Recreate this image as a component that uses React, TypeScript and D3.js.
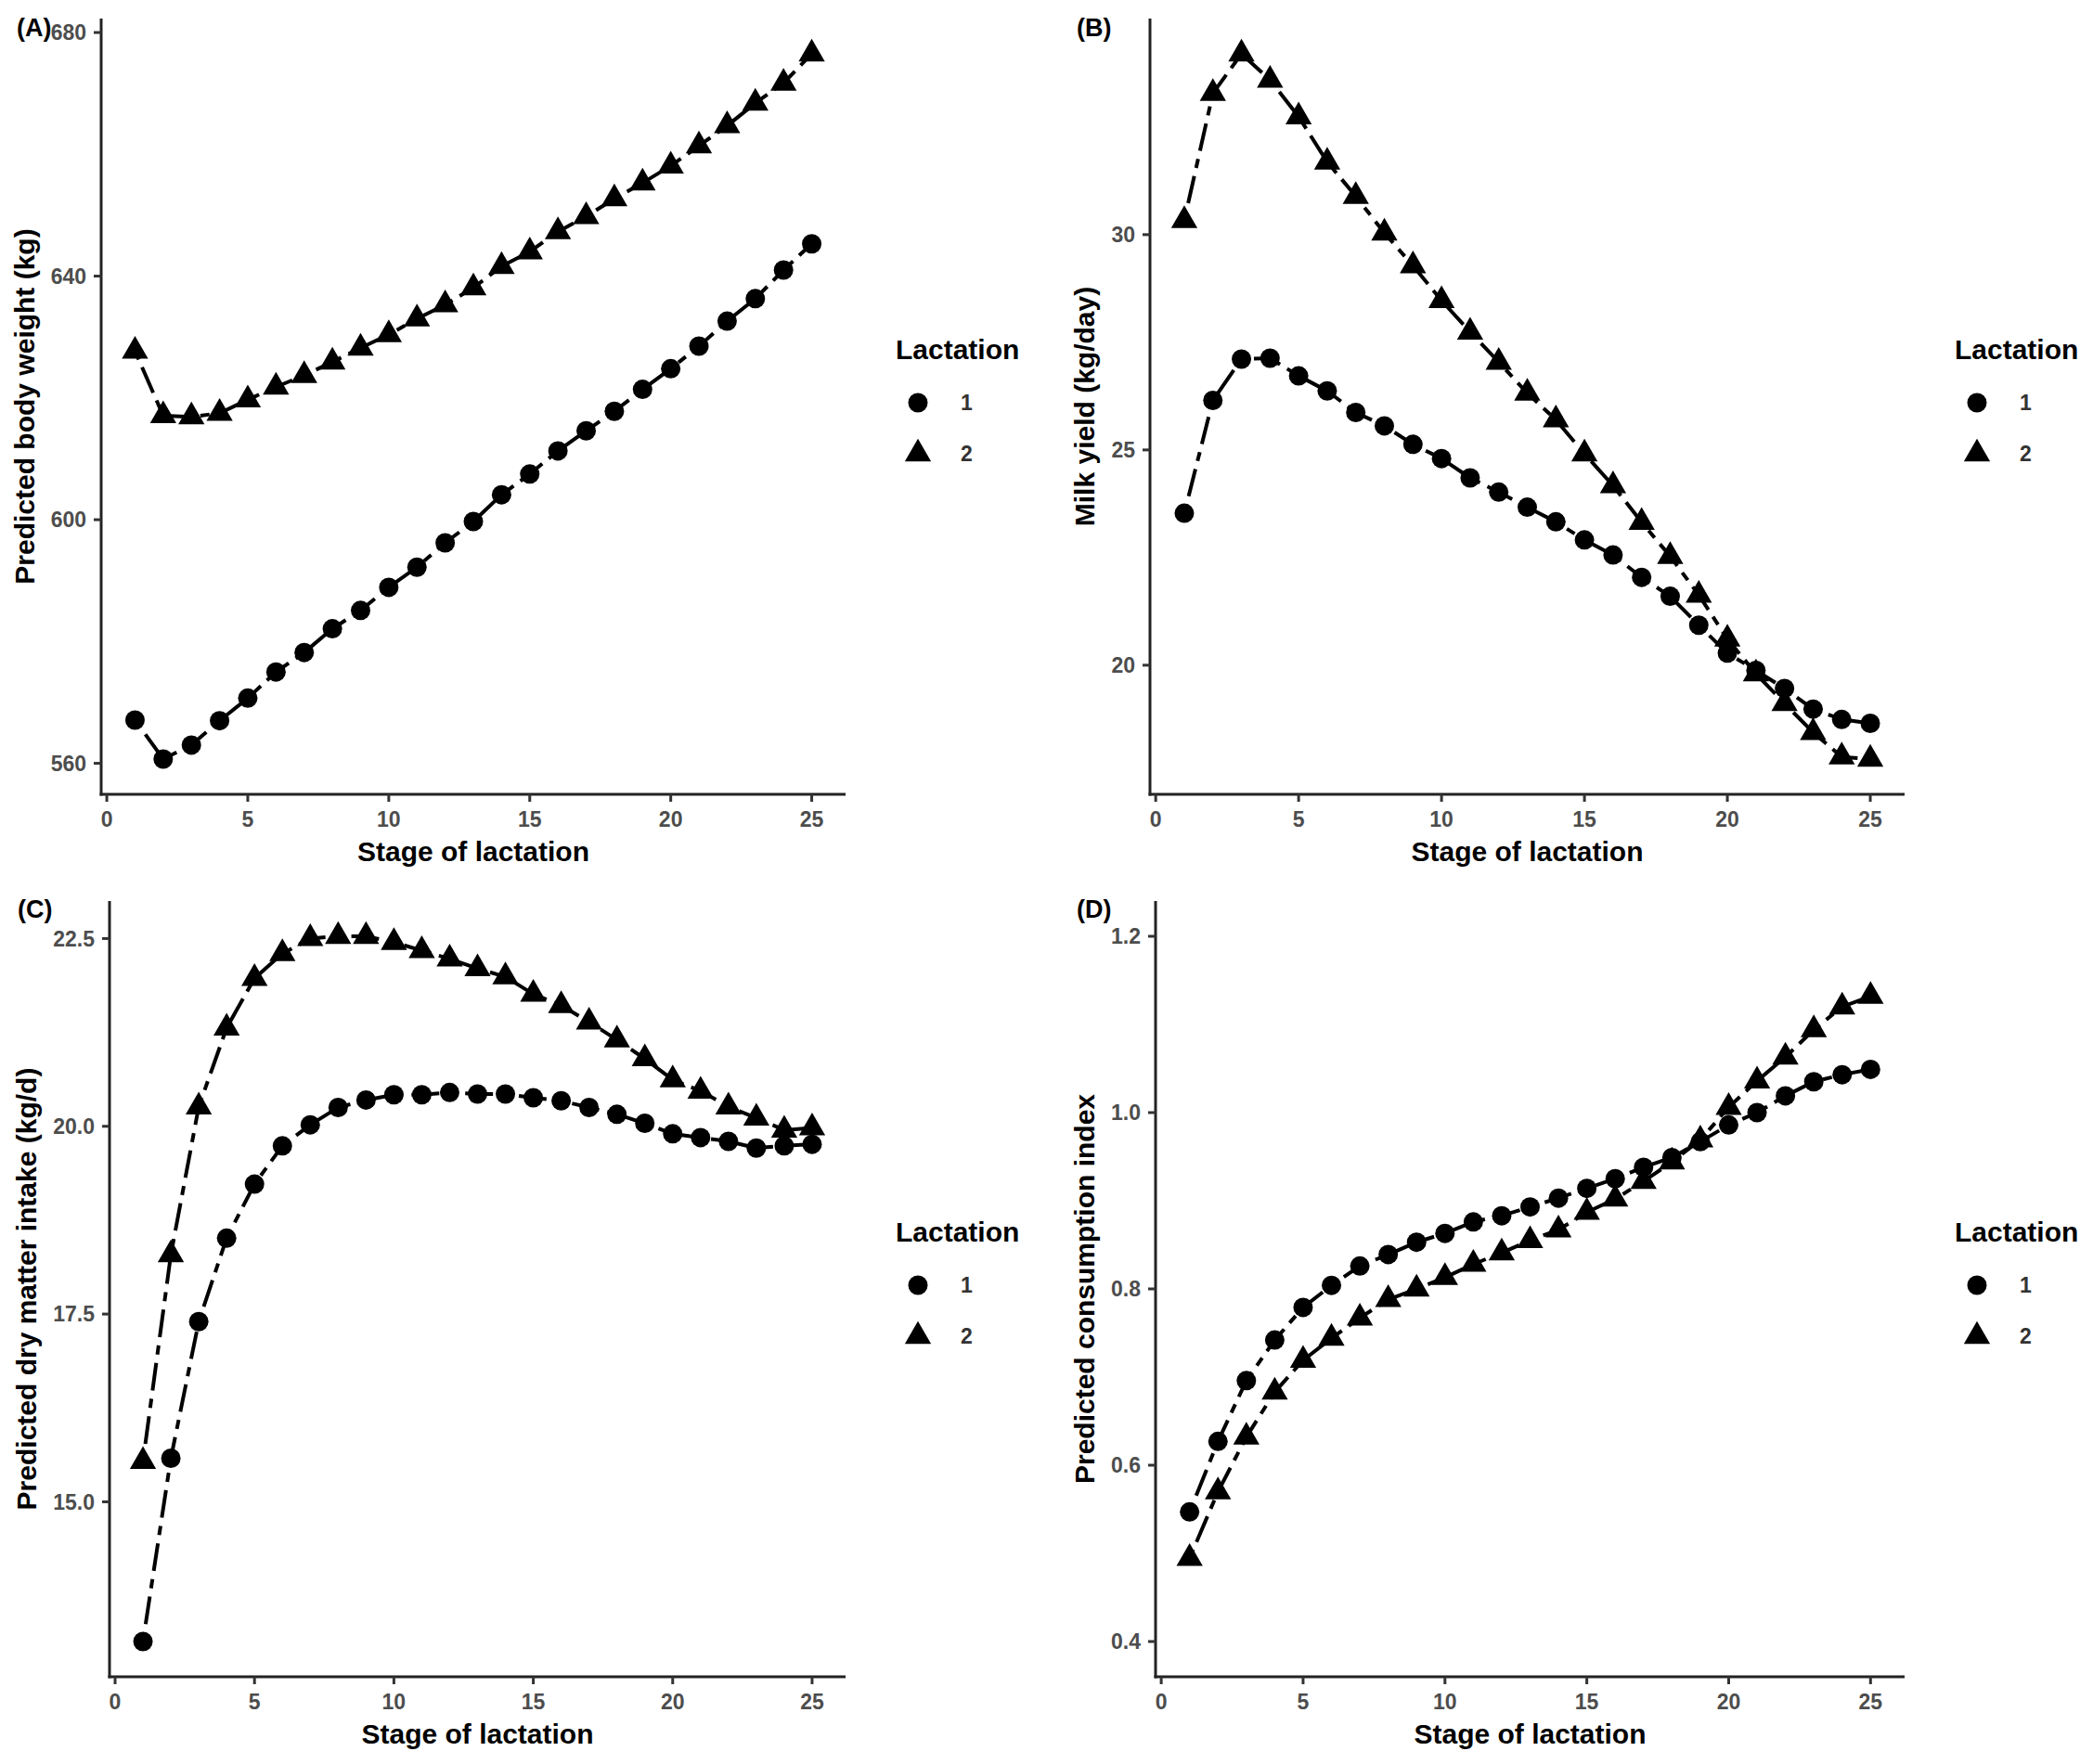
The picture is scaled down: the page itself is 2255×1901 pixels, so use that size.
import * as d3 from "d3";

// stage of lactation (x) shared by all four panels
const stage = [1, 2, 3, 4, 5, 6, 7, 8, 9, 10, 11, 12, 13, 14, 15, 16, 17, 18, 19, 20, 21, 22, 23, 24, 25];
const lactationLevels = ["1", "2"];
const xTicks = [0, 5, 10, 15, 20, 25];

// (A) predicted body weight (kg)
const bodyWeightL1 = [567.1, 560.7, 563.0, 567.0, 570.7, 575.0, 578.2, 582.1, 585.1, 588.9, 592.2, 596.2, 599.7, 604.1, 607.5, 611.3, 614.6, 617.8, 621.4, 624.8, 628.5, 632.6, 636.3, 641.0, 645.3];
const bodyWeightL2 = [627.7, 617.1, 616.9, 617.5, 619.7, 621.8, 623.7, 625.9, 628.2, 630.4, 633.0, 635.3, 638.1, 641.6, 644.0, 647.3, 649.8, 652.7, 655.3, 658.1, 661.4, 664.7, 668.4, 671.7, 676.5];
const bodyWeightTicks = [560, 600, 640, 680];

// (B) milk yield (kg/day)
const milkL1 = [23.53, 26.15, 27.11, 27.13, 26.72, 26.37, 25.87, 25.56, 25.13, 24.8, 24.35, 24.02, 23.67, 23.33, 22.91, 22.56, 22.04, 21.6, 20.93, 20.28, 19.88, 19.46, 18.98, 18.74, 18.65];
const milkL2 = [30.33, 33.28, 34.2, 33.59, 32.74, 31.69, 30.89, 30.04, 29.28, 28.47, 27.74, 27.04, 26.32, 25.7, 24.91, 24.17, 23.32, 22.53, 21.63, 20.61, 19.8, 19.11, 18.44, 17.87, 17.82];
const milkTicks = [20, 25, 30];

// (C) predicted dry matter intake (kg/d)
const dmiL1 = [13.14, 15.58, 17.4, 18.51, 19.23, 19.74, 20.02, 20.25, 20.35, 20.42, 20.42, 20.45, 20.43, 20.43, 20.38, 20.34, 20.25, 20.16, 20.04, 19.9, 19.85, 19.8, 19.71, 19.74, 19.76];
const dmiL2 = [15.54, 18.29, 20.26, 21.31, 21.97, 22.3, 22.5, 22.53, 22.53, 22.45, 22.34, 22.23, 22.1, 21.99, 21.76, 21.61, 21.39, 21.15, 20.9, 20.62, 20.47, 20.26, 20.11, 19.95, 19.98];
const dmiTicks = [15.0, 17.5, 20.0, 22.5];

// (D) predicted consumption index
const ciL1 = [0.547, 0.627, 0.696, 0.742, 0.779, 0.804, 0.826, 0.839, 0.853, 0.863, 0.876, 0.883, 0.893, 0.903, 0.914, 0.925, 0.938, 0.949, 0.967, 0.986, 1.0, 1.019, 1.035, 1.043, 1.049];
const ciL2 = [0.4945, 0.57, 0.632, 0.683, 0.719, 0.744, 0.767, 0.788, 0.8, 0.813, 0.828, 0.841, 0.855, 0.867, 0.887, 0.902, 0.922, 0.944, 0.969, 1.006, 1.036, 1.063, 1.094, 1.12, 1.132];
const ciTicks = [0.4, 0.6, 0.8, 1.0, 1.2];
const ciLimits: [number, number] = [0.4, 1.2];

const W = 2255;
const H = 1901;
const FONT = "'Liberation Sans', Arial, Helvetica, sans-serif";
const R = 10.5; // point radius
const DASH = "10,9,30,9"; // twodash

interface PanelDef {
  tag: string;
  yTitle: string;
  l1: number[];
  l2: number[];
  yTicks: number[];
  fmt: (v: number) => string;
  limits?: [number, number];
  box: { x0: number; x1: number; y0: number; y1: number };
  tagPos: [number, number];
}

const panels: PanelDef[] = [
  {
    tag: "(A)", yTitle: "Predicted body weight (kg)", l1: bodyWeightL1, l2: bodyWeightL2,
    yTicks: bodyWeightTicks, fmt: d3.format("d"),
    box: { x0: 109, x1: 911, y0: 20, y1: 856 }, tagPos: [18, 39],
  },
  {
    tag: "(B)", yTitle: "Milk yield (kg/day)", l1: milkL1, l2: milkL2,
    yTicks: milkTicks, fmt: d3.format("d"),
    box: { x0: 1239, x1: 2052, y0: 20, y1: 856 }, tagPos: [1160, 39],
  },
  {
    tag: "(C)", yTitle: "Predicted dry matter intake (kg/d)", l1: dmiL1, l2: dmiL2,
    yTicks: dmiTicks, fmt: d3.format(".1f"),
    box: { x0: 118, x1: 911, y0: 971, y1: 1807 }, tagPos: [19, 989],
  },
  {
    tag: "(D)", yTitle: "Predicted consumption index", l1: ciL1, l2: ciL2,
    yTicks: ciTicks, fmt: d3.format(".1f"), limits: ciLimits,
    box: { x0: 1245, x1: 2052, y0: 971, y1: 1807 }, tagPos: [1160, 989],
  },
];

const circlePath = d3.symbol().type(d3.symbolCircle).size(Math.PI * R * R)() ?? "";
const trianglePath = d3.symbol().type(d3.symbolTriangle).size((Math.sqrt(3) / 4) * (2.694 * R) ** 2)() ?? "";

function Panel({ p }: { p: PanelDef }) {
  const { x0, x1, y0, y1 } = p.box;
  const x = d3.scaleLinear().domain([-0.2, 26.2]).range([x0, x1]);
  const [lo, hi] = p.limits ?? (d3.extent([...p.l1, ...p.l2]) as [number, number]);
  const pad = (hi - lo) * 0.05;
  const y = d3.scaleLinear().domain([lo - pad, hi + pad]).range([y1, y0]);

  const line = d3
    .line<number>()
    .x((_, i) => x(stage[i]))
    .y((v) => y(v));

  const series = [
    { key: lactationLevels[0], values: p.l1, shape: circlePath },
    { key: lactationLevels[1], values: p.l2, shape: trianglePath },
  ];

  const labelW = d3.max(p.yTicks, (t) => p.fmt(t).replace(".", "").length * 12.8 + (p.fmt(t).includes(".") ? 6.4 : 0)) ?? 0;
  const yTitleX = x0 - 14 - labelW - 20;
  const midY = (y0 + y1) / 2;
  const legX = x1 + 54;
  const legY = midY - 51;

  return (
    <g>
      {/* axes */}
      <line x1={x0} x2={x0} y1={y0} y2={y1 + 1.5} stroke="#222" strokeWidth={3} />
      <line x1={x0 - 1.5} x2={x1} y1={y1} y2={y1} stroke="#222" strokeWidth={3} />
      {p.yTicks.map((t) => (
        <g key={t}>
          <line x1={x0 - 8} x2={x0} y1={y(t)} y2={y(t)} stroke="#333" strokeWidth={3} />
          <text x={x0 - 16} y={y(t)} dy="0.36em" textAnchor="end" fontSize={23} fontWeight="bold" fill="#4D4D4D">
            {p.fmt(t)}
          </text>
        </g>
      ))}
      {xTicks.map((t) => (
        <g key={t}>
          <line x1={x(t)} x2={x(t)} y1={y1} y2={y1 + 8} stroke="#333" strokeWidth={3} />
          <text x={x(t)} y={y1 + 35} textAnchor="middle" fontSize={23} fontWeight="bold" fill="#4D4D4D">
            {t}
          </text>
        </g>
      ))}
      <text x={(x0 + x1) / 2} y={y1 + 72} textAnchor="middle" fontSize={30} fontWeight="bold" fill="#000">
        Stage of lactation
      </text>
      <text
        transform={`translate(${yTitleX},${midY}) rotate(-90)`}
        textAnchor="middle"
        fontSize={30}
        fontWeight="bold"
        fill="#000"
      >
        {p.yTitle}
      </text>

      {/* data */}
      {series.map((s) => (
        <path key={s.key} d={line(s.values) ?? ""} fill="none" stroke="#000" strokeWidth={4} strokeDasharray={DASH} />
      ))}
      {series.map((s) =>
        s.values.map((v, i) => (
          <path key={`${s.key}-${i}`} d={s.shape} transform={`translate(${x(stage[i])},${y(v)})`} fill="#000" />
        ))
      )}

      {/* legend */}
      <text x={legX} y={legY} fontSize={30} fontWeight="bold" fill="#000">
        Lactation
      </text>
      {series.map((s, i) => (
        <g key={s.key}>
          <path d={s.shape} transform={`translate(${legX + 24},${legY + 47 + i * 55})`} fill="#000" />
          <text x={legX + 70} y={legY + 47 + i * 55} dy="0.36em" fontSize={23} fontWeight="bold" fill="#333">
            {s.key}
          </text>
        </g>
      ))}

      <text x={p.tagPos[0]} y={p.tagPos[1]} fontSize={27} fontWeight="bold" fill="#000">
        {p.tag}
      </text>
    </g>
  );
}

export default function App() {
  return (
    <div style={{ position: "absolute", left: 0, top: 0 }}>
      <svg width={W} height={H} viewBox={`0 0 ${W} ${H}`} style={{ display: "block", background: "#fff", fontFamily: FONT }}>
        <rect width={W} height={H} fill="#fff" />
        {panels.map((p) => (
          <Panel key={p.tag} p={p} />
        ))}
      </svg>
    </div>
  );
}
